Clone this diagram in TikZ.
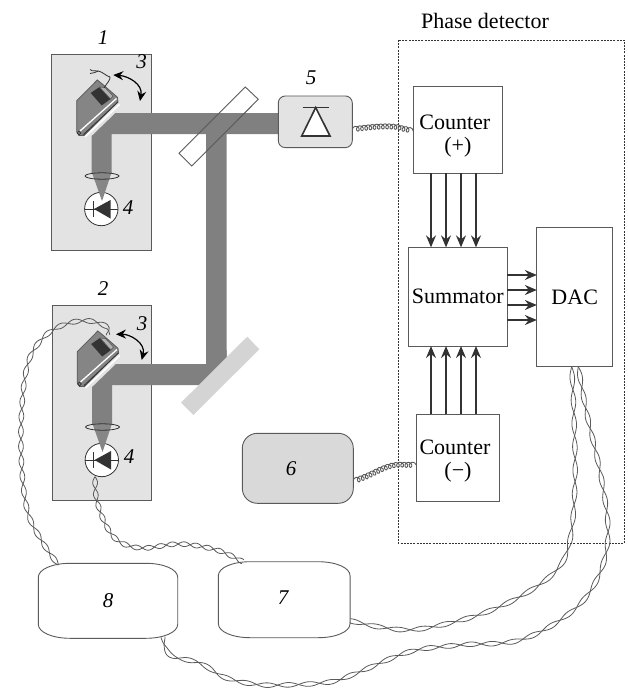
\documentclass[tikz,border=0pt]{standalone}
\usepackage{fontspec}
\setmainfont{Liberation Serif}
\usetikzlibrary{arrows.meta,decorations.pathmorphing,calc}
\definecolor{panel}{HTML}{E3E3E3}
\definecolor{beamc}{HTML}{808080}
\definecolor{edge}{HTML}{5A5A5A}
\definecolor{dark}{HTML}{333333}
\newcommand\wirepoints[2]{\foreach \k/\pt in {#2}{\coordinate (#1-\k) at (\pt);}}
\newcommand\twload[3]{\pgfpointanchor{#1}{center}\pgfgetlastxy{\twtx}{\twty}\pgfmathsetmacro#2{\twtx}\pgfmathsetmacro#3{\twty}}
% #1 wire name, #2 last point index, #3 amplitude, #4 period, #5 side (+1 or -1)
\newcommand\twiststrand[5]{%
  \gdef\twS{0}\gdef\twpath{}%
  \twload{#1-0}{\twpx}{\twpy}\xdef\twprevx{\twpx}\xdef\twprevy{\twpy}%
  \pgfmathtruncatemacro\twlastseg{#2-1}%
  \foreach \q in {0,...,\twlastseg}{%
    \pgfmathtruncatemacro\qa{max(\q-1,0)}\pgfmathtruncatemacro\qc{\q+1}\pgfmathtruncatemacro\qd{min(\q+2,#2)}%
    \twload{#1-\qa}{\xa}{\ya}\twload{#1-\q}{\xb}{\yb}\twload{#1-\qc}{\xc}{\yc}\twload{#1-\qd}{\xd}{\yd}%
    \pgfmathsetmacro\ax{\xc-\xa}\pgfmathsetmacro\ay{\yc-\ya}%
    \pgfmathsetmacro\bx{2*\xa-5*\xb+4*\xc-\xd}\pgfmathsetmacro\by{2*\ya-5*\yb+4*\yc-\yd}%
    \pgfmathsetmacro\cx{3*\xb-\xa-3*\xc+\xd}\pgfmathsetmacro\cy{3*\yb-\ya-3*\yc+\yd}%
    \pgfmathsetmacro\seglen{veclen(\xc-\xb,\yc-\yb)}%
    \pgfmathtruncatemacro\nst{max(2,ceil(\seglen/1.8))}%
    \foreach \j in {1,...,\nst}{%
      \pgfmathsetmacro\tt{\j/\nst}%
      \pgfmathsetmacro\px{\xb+0.5*\tt*(\ax+\tt*(\bx+\tt*\cx))}%
      \pgfmathsetmacro\py{\yb+0.5*\tt*(\ay+\tt*(\by+\tt*\cy))}%
      \pgfmathsetmacro\dx{0.5*\ax+\tt*(\bx+1.5*\tt*\cx)}%
      \pgfmathsetmacro\dy{0.5*\ay+\tt*(\by+1.5*\tt*\cy)}%
      \pgfmathsetmacro\nn{max(veclen(\dx,\dy),0.01)}%
      \pgfmathsetmacro\newS{\twS+veclen(\px-\twprevx,\py-\twprevy)}%
      \xdef\twS{\newS}\xdef\twprevx{\px}\xdef\twprevy{\py}%
      \pgfmathsetmacro\off{#5*#3*sin(360*(\twS/#4))}%
      \pgfmathsetmacro\qx{\px-\off*\dy/\nn}%
      \pgfmathsetmacro\qy{\py+\off*\dx/\nn}%
      \xdef\twpath{\twpath -- (\qx pt,\qy pt)}%
    }%
  }%
  \draw[edge,line width=0.8pt,line join=round] (#1-0) \twpath;%
}
\newcommand\twistpair[4]{\twiststrand{#1}{#2}{#3}{#4}{1}\twiststrand{#1}{#2}{#3}{#4}{-1}}
\tikzset{
  panelbox/.style={draw=edge,fill=panel,line width=0.9pt},
  beam/.style={fill=beamc,draw=none},
  blockbox/.style={draw=edge,line width=0.9pt,fill=white,inner sep=0pt,outer sep=0pt,align=center,font=\fontsize{22}{23.5}\selectfont},
  numlabel/.style={font=\fontsize{21}{24}\selectfont\itshape,inner sep=0pt},
  sig/.style={draw=dark,line width=1.5pt,-{Stealth[length=12pt,width=10pt,inset=4pt]}},
  swing/.style={draw=black,line width=1.2pt,{Stealth[length=10pt,width=9pt,inset=3.5pt]}-{Stealth[length=10pt,width=9pt,inset=3.5pt]}},
  coilwire/.style={draw=edge,line width=0.9pt,decorate,decoration={coil,amplitude=2.6pt,segment length=4.2pt,aspect=0.9}},
  lumpedge/.style={draw=edge,line width=0.9pt,fill=white},
  unit/.pic={
    % tapered beam and photodiode
    \draw[dark,line width=0.8pt,fill=white] (101.3,209) circle (16.7);
    \fill[beamc!95!white] (91.7,172) -- (111.7,172) -- (102,201) -- cycle;
    \draw[dark,line width=0.8pt] (85,176) arc[start angle=180,end angle=540,x radius=17,y radius=3.2];
    \draw[dark,line width=0.7pt] (84.6,209) -- (118,209);
    \draw[dark,line width=1pt] (93.3,201) -- (93.3,217);
    \fill[dark] (94,209) -- (110.5,200) -- (110.5,218.5) -- cycle;
    % grating mount
    \draw[edge,line width=0.8pt,fill=black!48] (76.7,100.7) -- (97.3,80) -- (102.3,84) -- (117.5,97.3) -- (118,101.7) -- (84,135.5) -- (79,135.5) -- (76.7,131.7) -- cycle;
    \fill[black!80] (90.7,93) -- (99.5,87) -- (110.5,99) -- (101.7,105.5) -- cycle;
    \draw[edge,line width=0.6pt,fill=black!30] (99.5,87) -- (105,87.5) -- (113,96) -- (110.5,99) -- cycle;
    \draw[white,line width=1.3pt] (80,131) -- (116.5,98.5);
    \draw[white,line width=1.5pt] (85,136.8) -- (119.5,104.5);
    \draw[dark,line width=0.8pt] (83.5,134.5) -- (118,102);
    \draw[dark,line width=0.7pt] (79,133) circle (1.9);
  }
}
\begin{document}
\begin{tikzpicture}[x=1pt,y=-1pt]
\useasboundingbox (0,0) rectangle (627,688);

% panels
\draw[panelbox] (51.7,54) rectangle (151.7,250);
\draw[panelbox] (52.3,305) rectangle (151.7,500);
\node[numlabel] at (103,38) {1};
\node[numlabel] at (103,289) {2};
\node[numlabel] at (141.7,62) {3};
\node[numlabel] at (142,324) {3};
\node[numlabel] at (128,208) {4};
\node[numlabel] at (129,457) {4};
\node[numlabel] at (311,78) {5};

% beam splitter, its white face under the beam
\fill[white] (179,153.3) -- (191.7,166) -- (258.3,99.3) -- (245.3,87) -- cycle;

% beams
\path[beam] (115.5,113) -- (279,113) -- (279,134) -- (226.7,134) -- (226.7,362) -- (206,362) -- (206,134) -- (111.7,134) -- (111.7,173) -- (91.7,173) -- (91.7,136) -- cycle;
\path[beam] (116,364) -- (206,364) -- (206,350) -- (226.7,350) -- (226.7,370) -- (205,385) -- (112.2,385) -- (112.2,424) -- (92.2,424) -- (92.2,387) -- cycle;

% mirrors
\draw[edge,line width=0.9pt] (179,153.3) -- (191.7,166) -- (258.3,99.3) -- (245.3,87) -- cycle;
\fill[black!17] (181,402.7) -- (193.3,415) -- (259.3,349.3) -- (247.3,336.7) -- cycle;

% grating and photodiode assemblies
\pic at (0,0) {unit};
\pic at (0.5,251) {unit};

% swing arrows and fine wire
\draw[swing] (113.3,75) .. controls (128,76) and (143,84) .. (140,101);
\draw[swing] (116,334.3) .. controls (130,334) and (146,343) .. (141.7,360);
\draw[dark,line width=0.8pt] (90,69.5) .. controls (93,72) and (95,70) .. (98.3,71) .. controls (103,72) and (106,76) .. (110,77) .. controls (110.5,80) and (107,83) .. (104,88);
\draw[dark,line width=0.8pt] (90,73.5) .. controls (93,73.5) and (96,72) .. (98.3,71);

% phase detector frame
\node[font=\fontsize{22}{24}\selectfont,inner sep=0pt] (title) at (485,21) {Phase detector};
\draw[dark,line width=0.7pt,dash pattern=on 2pt off 1.2pt] (398.3,40) rectangle (624.3,543.3);

% blocks
\node[blockbox,minimum width=89pt,minimum height=86.6pt] (cp) at (457.8,130) {\rule{0pt}{27pt}Counter\hspace*{6pt}\\(+)};
\node[blockbox,minimum width=99pt,minimum height=98.7pt] (sum) at (457.8,296.7) {Summator};
\node[blockbox,minimum width=75.7pt,minimum height=139pt] (dac) at (574.7,297.2) {DAC};
\node[blockbox,minimum width=82.6pt,minimum height=87.4pt] (cm) at (458,458) {\rule{0pt}{21pt}Counter\hspace*{6pt}\\(−)};

% detector 5
\node[draw=edge,fill=panel,line width=0.9pt,rounded corners=7pt,minimum width=74pt,minimum height=51.7pt,inner sep=0pt,outer sep=0pt] (det) at (315.3,121.8) {};
\draw[dark,line width=1.6pt,fill=white,line join=miter] (315.7,107.5) -- (301.7,136) -- (330,136) -- cycle;
\draw[dark,line width=1.6pt] (302.7,107.3) -- (329,107.3);

% block 6
\node[draw=edge,fill=black!15,line width=0.9pt,rounded corners=15pt,minimum width=111pt,minimum height=70pt,inner sep=0pt,outer sep=0pt] (six) at (297.8,468.3) {};
\node[numlabel] at (291,469) {6};

% blocks 7 and 8
\node[minimum width=139.4pt,minimum height=75pt,inner sep=0pt,outer sep=0pt] (eight) at (108,600.8) {};
\node[minimum width=131.7pt,minimum height=76pt,inner sep=0pt,outer sep=0pt] (seven) at (284.2,599.7) {};
\foreach \n in {eight,seven}{
  \draw[lumpedge] ($(\n.north west)+(0,14)$) .. controls ($(\n.north west)+(0,6)$) and ($(\n.north west)+(14,0)$) .. ($(\n.north west)+(32,0)$)
    -- ($(\n.north east)+(-32,0)$) .. controls ($(\n.north east)+(-14,0)$) and ($(\n.north east)+(0,6)$) .. ($(\n.north east)+(0,14)$)
    -- ($(\n.south east)+(0,-14)$) .. controls ($(\n.south east)+(0,-6)$) and ($(\n.south east)+(-14,0)$) .. ($(\n.south east)+(-32,0)$)
    -- ($(\n.south west)+(32,0)$) .. controls ($(\n.south west)+(14,0)$) and ($(\n.south west)+(0,-6)$) .. ($(\n.south west)+(0,-14)$) -- cycle;
}
\node[numlabel] at (eight.center) {8};
\node[numlabel] at (283,598) {7};

% signal buses
\foreach \i/\x in {1/431,2/446,3/461,4/476}{
  \coordinate (col\i) at (\x,0);
  \draw[sig] (cp.south -| col\i) -- (sum.north -| col\i);
  \draw[sig] (cm.north -| col\i) -- (sum.south -| col\i);
}
\foreach \i/\y in {1/275,2/290,3/305,4/320}{
  \coordinate (row\i) at (0,\y);
  \draw[sig] (sum.east |- row\i) -- (dac.west |- row\i);
}

% coiled leads
\coordinate (detout) at (352.3,129.3);
\coordinate (cpin) at (413.3,131);
\coordinate (sixout) at (353.3,480.7);
\coordinate (cmin) at (416.7,464.7);
\draw[coilwire] (detout) .. controls (370,127) and (390,125) .. (400,128) .. controls (405,129) and (409,130) .. (cpin);
\draw[coilwire] (sixout) .. controls (372,476) and (382,466) .. (398.3,465) -- (cmin);

% twisted pairs
\wirepoints{wa}{0/{58.3,565},1/{43,543},2/{28,513},3/{21.7,467},4/{21.7,410},5/{28,363},6/{43,338},7/{63,325},8/{86.7,320.7},9/{106.7,326.7},10/{108,335}}
\wirepoints{wb}{0/{95,476.7},1/{96.7,500},2/{106.7,526.7},3/{120,542},4/{143,548},5/{180,544},6/{216.7,550},7/{243,561.7}}
\wirepoints{wc}{0/{571.7,366.7},1/{574,416.7},2/{575,483},3/{570,540},4/{556.7,570},5/{520,596.7},6/{473,616.7},7/{416.7,629.3},8/{380,627},9/{350,620.7}}
\wirepoints{wd}{0/{578.3,366.7},1/{586.7,413},2/{601.7,480},3/{608,536.7},4/{596.7,580},5/{570,613},6/{520,640},7/{460,645},8/{410,651.7},9/{356.7,673},10/{330,682},11/{283,685},12/{253,684},13/{223,676.7},14/{200,663},15/{173,656.7},16/{165,646.7},17/{163,637}}
\twistpair{wa}{10}{2.4}{30}
\twistpair{wb}{7}{2.4}{24}
\twistpair{wc}{9}{2.3}{46}
\twistpair{wd}{17}{2.3}{42}
\end{tikzpicture}
\end{document}
